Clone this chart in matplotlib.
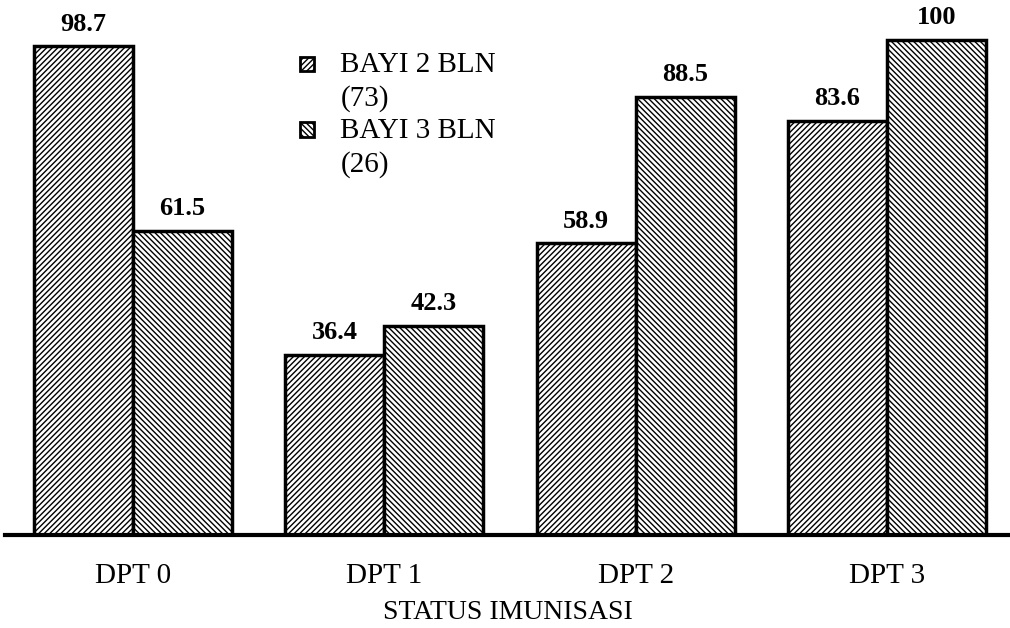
import matplotlib.pyplot as plt
from matplotlib.patches import Rectangle
import numpy as np

plt.rcParams['font.family'] = ['Liberation Serif', 'DejaVu Serif']
plt.rcParams['hatch.linewidth'] = 1.0
plt.rcParams['hatch.color'] = '#333333'

categories = ['DPT 0', 'DPT 1', 'DPT 2', 'DPT 3']
bayi_2 = [98.7, 36.4, 58.9, 83.6]
bayi_3 = [61.5, 42.3, 88.5, 100]
labels = ['BAYI 2 BLN\n(73)', 'BAYI 3 BLN\n(26)']
hatches = ['//////', '\\\\\\\\\\\\']

fig = plt.figure(figsize=(10.1, 6.28), dpi=100)
ax = fig.add_axes([0.005, 0.148, 0.995, 0.804])

x = np.arange(len(categories))
w = 0.394
b1 = ax.bar(x - w / 2, bayi_2, w, color='white', edgecolor='black', linewidth=2.5,
            hatch=hatches[0])
b2 = ax.bar(x + w / 2, bayi_3, w, color='white', edgecolor='black', linewidth=2.5,
            hatch=hatches[1])

for bars in (b1, b2):
    for r in bars:
        ax.text(r.get_x() + r.get_width() / 2, r.get_height() + 2.2, f'{r.get_height():g}',
                ha='center', va='bottom', fontsize=19, fontweight='bold')

ax.set_xlim(-0.51, 3.49)
ax.set_ylim(0, 102)
for s in ['top', 'right', 'left']:
    ax.spines[s].set_visible(False)
ax.spines['bottom'].set_linewidth(3)
ax.set_yticks([])
ax.set_xticks(x)
ax.set_xticklabels(categories, fontsize=21)
ax.tick_params(axis='x', length=0, pad=20)
ax.set_xlabel('STATUS IMUNISASI', fontsize=20, labelpad=8)

# legend drawn by hand so the swatch sits beside the first line
for i, (lab, h) in enumerate(zip(labels, hatches)):
    y0 = 0.887 - i * 0.105
    fig.patches.append(Rectangle((0.297, y0), 0.014, 0.023, transform=fig.transFigure,
                                 facecolor='white', edgecolor='black', linewidth=2, hatch=h))
    fig.text(0.337, y0 + 0.030, lab, ha='left', va='top', fontsize=21, linespacing=1.35)

fig.savefig('out.png', dpi=100)
